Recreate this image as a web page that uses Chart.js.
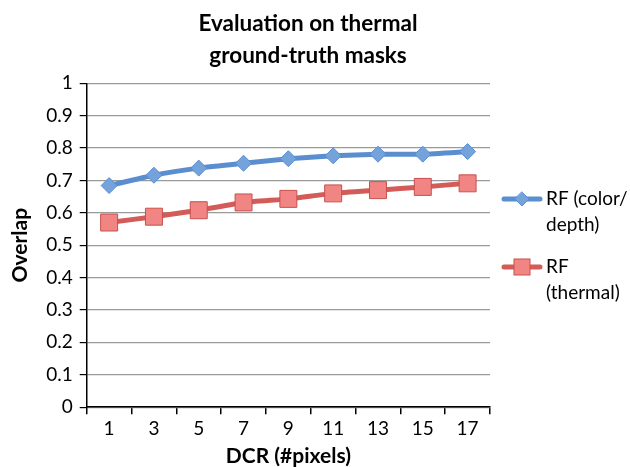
<!DOCTYPE html>
<html>
<head>
<meta charset="utf-8">
<script src="https://cdn.jsdelivr.net/npm/chart.js@4/dist/chart.umd.min.js"></script>
<style>
  body { margin: 0; background: #fff; }
  #wrap { width: 630px; height: 467px; }
</style>
</head>
<body>
<div id="wrap"><canvas id="graphic"></canvas></div>
<script>
const dcrLabels = ['1', '3', '5', '7', '9', '11', '13', '15', '17'];
const rfColorDepth = [0.684, 0.716, 0.738, 0.753, 0.767, 0.776, 0.781, 0.781, 0.789];
const rfThermal = [0.570, 0.588, 0.608, 0.632, 0.643, 0.660, 0.670, 0.680, 0.691];
const seriesNames = [['RF (color/', 'depth)'], ['RF', '(thermal)']];

const fontFamily = "Lato, 'Open Sans', sans-serif";

/* leyenda a la derecha, dibujada a mano */
const sideLegend = {
  id: 'sideLegend',
  afterDraw(chart) {
    const ctx = chart.ctx;
    const rows = [199, 267];
    chart.data.datasets.forEach((ds, i) => {
      const y = rows[i];
      ctx.save();
      ctx.strokeStyle = ds.borderColor;
      ctx.lineWidth = 5;
      ctx.lineCap = 'round';
      ctx.beginPath();
      ctx.moveTo(504, y);
      ctx.lineTo(540, y);
      ctx.stroke();
      ctx.fillStyle = ds.pointBackgroundColor;
      ctx.strokeStyle = ds.pointBorderColor;
      ctx.lineWidth = 1;
      if (ds.pointStyle === 'rectRot') {
        ctx.beginPath();
        ctx.moveTo(522, y - 7);
        ctx.lineTo(529, y);
        ctx.lineTo(522, y + 7);
        ctx.lineTo(515, y);
        ctx.closePath();
        ctx.fill();
        ctx.stroke();
      } else {
        ctx.fillRect(514, y - 8, 16, 16);
        ctx.strokeRect(514, y - 8, 16, 16);
      }
      ctx.fillStyle = '#000';
      ctx.font = '19px ' + fontFamily;
      ctx.textBaseline = 'middle';
      seriesNames[i].forEach((t, k) => ctx.fillText(t, 546, y + k * 26));
      ctx.restore();
    });
  }
};

const data = {
  labels: dcrLabels,
  datasets: [{
    label: 'RF (color/depth)',
    data: rfColorDepth,
    borderColor: '#5B8ECF',
    borderWidth: 5,
    pointStyle: 'rectRot',
    pointRadius: 8,
    pointBackgroundColor: '#74A2DB',
    pointBorderColor: '#5B8ECF',
    pointBorderWidth: 1,
    tension: 0.15
  }, {
    label: 'RF (thermal)',
    data: rfThermal,
    borderColor: '#D35B58',
    borderWidth: 5,
    pointStyle: 'rect',
    pointRadius: 12,
    pointBackgroundColor: '#F08583',
    pointBorderColor: '#C9504D',
    pointBorderWidth: 1,
    tension: 0.15
  }]
};

const config = {
  type: 'line',
  data: data,
  options: {
    responsive: true,
    maintainAspectRatio: false,
    animation: false,
    layout: { padding: { left: 4, right: 18, top: 4, bottom: 0 } },
    plugins: {
      legend: { display: false },
      tooltip: { enabled: false },
      title: {
        display: true,
        text: ['Evaluation on thermal', 'ground-truth masks'],
        color: '#000',
        font: { family: fontFamily, size: 22.5, weight: 'bold', lineHeight: 1.45 },
        padding: { top: 3, bottom: 11 }
      }
    },
    scales: {
      x: {
        offset: true,
        grid: {
          offset: true,
          drawOnChartArea: false,
          drawTicks: true,
          tickLength: 7,
          tickColor: '#000',
          lineWidth: 1.5
        },
        border: { color: '#000', width: 1.5 },
        ticks: { color: '#000', font: { family: fontFamily, size: 19 }, padding: 3 },
        title: {
          display: true,
          text: 'DCR (#pixels)',
          color: '#000',
          font: { family: fontFamily, size: 21, weight: 'bold', lineHeight: 1.05 },
          padding: { top: 2, bottom: 0 }
        }
      },
      y: {
        min: 0,
        max: 1,
        ticks: {
          stepSize: 0.1,
          color: '#000',
          font: { family: fontFamily, size: 19 },
          padding: 7,
          callback: v => +v.toFixed(1)
        },
        grid: { color: '#9a9a9a', lineWidth: 1.2, tickColor: '#000', tickLength: 7 },
        border: { color: '#000', width: 1.5 },
        title: {
          display: true,
          text: 'Overlap',
          color: '#000',
          font: { family: fontFamily, size: 21, weight: 'bold' },
          padding: { top: 4, bottom: 6 }
        }
      },
      /* espacio vacio a la derecha para la leyenda */
      gap: {
        type: 'linear',
        position: 'right',
        display: true,
        grid: { display: false },
        border: { display: false },
        ticks: { display: false },
        afterFit(scale) { scale.width = 122; }
      }
    }
  },
  plugins: [sideLegend]
};

new Chart(document.querySelector('#graphic'), config);
</script>
</body>
</html>
